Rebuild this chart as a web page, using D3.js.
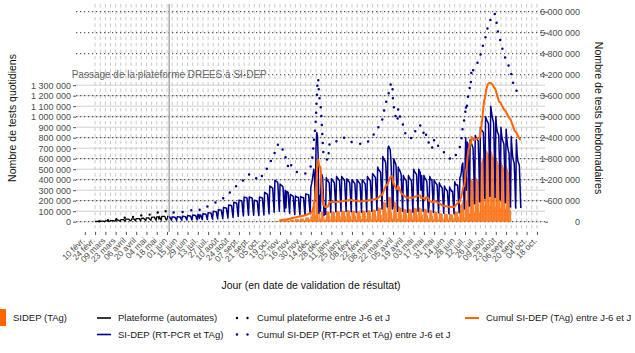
<!DOCTYPE html>
<html><head><meta charset="utf-8">
<script src="https://cdn.jsdelivr.net/npm/d3@7"></script>
<style>body{margin:0;background:#fff}svg{display:block}text{font-family:"Liberation Sans",Arial,sans-serif}</style>
</head><body>
<svg id="c" width="635" height="353"></svg>
<script>
// ---------- DATA (daily values in thousands, one row = one week Mon..Sun) ----------
const plateformeStart = "2020-02-24";
const plateformeWeeks = [
 [2,2,3,3,3,2,1],[4,4,5,5,5,3,2],[7,7,8,8,8,5,3],[10,11,11,11,11,7,4],
 [14,15,15,15,15,9,6],[18,19,19,19,19,11,7],[23,24,24,24,24,14,9],[12,26,27,27,27,16,10],
 [29,30,30,30,30,17,11],[32,32,33,33,26,18,12],[36,36,37,37,26,20,13],[42,42,43,43,43,24,15],
 [46,46,47,28,45,26,16],[50,50,51,51,51,28,17],[24,50,50]
];
const sidepStart = "2020-06-01";
const sidepWeeks = [
 [null,null,null,45,44,28,14],[46,45,44,43,42,28,14],[48,47,46,45,44,29,15],[52,51,50,49,48,31,16],
 [58,57,56,55,54,34,17],[63,62,61,60,59,37,18],[68,67,30,65,64,40,20],[76,75,74,73,72,45,22],
 [86,85,84,83,82,50,25],[100,98,97,96,95,58,28],[115,113,112,111,110,66,30],[135,133,132,130,128,76,35],
 [160,158,156,154,152,90,40],[185,183,181,179,177,108,50],[205,203,201,199,197,120,55],[235,232,230,228,225,135,62],
 [235,232,230,228,225,135,62],[205,203,200,198,195,120,58],[235,232,230,228,225,135,64],[280,275,270,265,260,160,75],
 [340,335,330,325,320,190,90],[395,390,385,380,370,220,100],[360,350,345,340,330,200,95],[300,130,290,285,280,170,80],
 [260,255,250,245,240,145,68],[245,240,235,232,230,140,65],[240,235,232,230,228,140,65],[265,262,260,258,255,160,75],
 [330,360,400,450,500,420,200],[700,850,820,600,80,250,100],[420,450,420,250,60,150,70],[420,400,390,380,370,230,90],
 [410,400,390,380,370,240,95],[430,420,410,400,390,250,100],[430,420,410,400,390,250,100],[410,400,390,380,370,240,95],
 [400,390,380,370,360,235,90],[400,390,380,370,360,235,90],[400,390,380,370,360,240,95],[430,420,410,400,390,260,100],
 [460,450,440,430,420,280,110],[520,500,490,480,470,310,120],[620,600,590,580,560,380,140],[700,720,700,690,600,420,120],
 [150,600,580,560,540,330,100],[520,500,490,470,450,280,100],[440,420,410,400,390,240,90],[440,420,410,400,390,240,90],
 [500,480,470,460,450,290,100],[500,480,470,300,440,280,100],[440,420,410,400,380,250,90],[150,430,410,400,390,240,90],
 [400,380,370,360,350,220,85],[370,350,340,330,320,200,80],[340,320,310,300,290,185,75],[330,310,300,290,290,185,75],
 [380,360,350,350,350,220,85],[420,430,470,540,560,360,120],[480,800,300,760,740,480,150],[780,760,740,720,700,480,170],
 [820,800,790,780,770,530,190],[900,880,870,860,850,600,220],[1000,980,960,950,930,650,240],[1100,1050,1000,970,940,640,230],
 [1000,900,860,840,820,560,210],[900,820,780,760,740,500,180],[880,800,720,680,650,420,140],[810,700,620,580,560,380,130],
 [780,650,580,560,540,350,130]
];
const tagStart = "2020-10-26";
const tagWeeks = [
 [5,5,5,5,5,3,2],[10,10,10,10,10,6,3],[15,8,15,15,15,9,4],[20,20,20,20,20,12,6],
 [25,25,25,25,25,15,7],[30,30,30,30,30,18,8],[40,40,40,40,40,25,10],[50,60,80,110,150,150,60],
 [350,420,400,250,20,80,30],[90,100,95,60,15,40,20],[100,98,96,94,92,55,25],[100,98,96,94,92,55,25],
 [104,102,100,98,96,55,25],[108,106,104,102,100,56,24],[112,110,108,106,104,56,24],[108,106,104,102,100,56,24],
 [104,102,100,98,96,55,25],[108,106,104,102,100,56,24],[112,110,108,106,104,56,24],[118,116,114,112,110,56,24],
 [138,136,134,132,130,64,26],[190,188,186,184,182,90,30],[240,238,236,234,230,92,30],[60,200,190,185,180,90,30],
 [150,145,140,135,130,65,25],[125,122,120,118,115,60,25],[125,122,120,118,115,60,25],[135,132,130,128,125,65,25],
 [140,135,130,60,125,65,25],[125,122,120,118,115,60,25],[40,115,110,108,105,55,22],[100,98,95,92,90,48,20],
 [85,82,80,78,75,40,18],[80,78,75,72,70,38,17],[78,75,72,70,68,38,17],[100,98,96,94,92,50,20],
 [150,160,170,180,200,120,40],[300,450,200,420,410,280,80],[420,410,400,390,380,250,90],[430,420,410,400,390,260,90],
 [550,560,580,600,620,450,150],[690,680,670,660,650,460,150],[690,670,650,630,610,420,140],[620,600,580,560,540,380,130],
 [580,560,540,520,500,350,120],[540,520,500,480,460,320,110],[480,460,440,420,400,280,100],[440,420,400,380,360,250,90]
];
const tagBarsEnd = "2021-09-12";
const passageDate = "2020-06-04";
const passageLabel = "Passage de la plateforme DREES à SI-DEP";
const tickStart = "2020-02-10";
const tickLabels = ["10 févr.","24 févr.","09 mars","23 mars","06 avril","20 avril","04 mai","18 mai","01 juin","15 juin",
 "29 juin","13 juil.","27 juil.","10 août","24 août","07 sept.","21 sept.","05 oct.","19 oct.","02 nov.","16 nov.","30 nov.",
 "14 déc.","28 déc.","11 janv.","25 janv.","08 févr.","22 févr.","08 mars","22 mars","05 avril","19 avril","03 mai","17 mai",
 "31 mai","14 juin","28 juin","12 juil.","26 juil.","09 août","23 août","06 sept.","20 sept.","04 oct.","18 oct."];
const leftTicks = [0,100000,200000,300000,400000,500000,600000,700000,800000,900000,1000000,1100000,1200000,1300000];
const rightTicks = [0,600000,1200000,1800000,2400000,3000000,3600000,4200000,4800000,5400000,6000000];

// ---------- helpers ----------
const parse = d3.utcParse("%Y-%m-%d");
const DAY = 864e5;
function expand(start, weeks){
  const t0 = +parse(start), out = [];
  weeks.flat().forEach((v,i)=>{ if(v!=null) out.push({date:new Date(t0+i*DAY), v:v*1000}); });
  return out;
}
function rolling(data){
  const m = new Map(data.map(d=>[+d.date,d.v]));
  return data.map(d=>{ let s=0; for(let k=0;k<7;k++){ const v=m.get(+d.date-k*DAY); if(v==null) return null; s+=v; } return {date:d.date,v:s}; }).filter(Boolean);
}
const plateforme = expand(plateformeStart, plateformeWeeks);
const sidep = expand(sidepStart, sidepWeeks);
const tag = expand(tagStart, tagWeeks);
const plateformeCum = rolling(plateforme), sidepCum = rolling(sidep), tagCum = rolling(tag);
const tagBars = tag.filter(d=>d.date<=parse(tagBarsEnd));

const loc = d3.formatLocale({decimal:",",thousands:" ",grouping:[3],currency:["","€"]});
const fmt = loc.format(",");

// ---------- scales ----------
const x = d3.scaleUtc().domain([parse("2020-01-29"), parse("2021-10-29")]).range([76,545]);
const yL = d3.scaleLinear().domain([0,1300000]).range([221.7,85.2]);
const yR = d3.scaleLinear().domain([0,6000000]).range([221.7,11.7]);
const pTop = 4, pBottom = 232, pLeft = 76, pRight = 545;

const svg = d3.select("#c");
const g = svg.append("g");

// vertical weekly dashed grid
const weeks = d3.utcMonday.range(parse("2020-02-24"), parse("2021-10-19"));
g.append("g").selectAll("line").data(weeks).join("line")
  .attr("x1",d=>x(d)).attr("x2",d=>x(d)).attr("y1",pTop).attr("y2",pBottom)
  .attr("stroke","#c4c4c4").attr("stroke-width",0.9).attr("stroke-dasharray","3.5,3");
// left gray grid
g.append("g").selectAll("line").data(leftTicks).join("line")
  .attr("x1",pLeft).attr("x2",pRight).attr("y1",d=>yL(d)).attr("y2",d=>yL(d))
  .attr("stroke","#cfcfcf").attr("stroke-width",1);
// right dotted grid
g.append("g").selectAll("line").data(rightTicks).join("line")
  .attr("x1",pLeft).attr("x2",pRight).attr("y1",d=>yR(d)).attr("y2",d=>yR(d))
  .attr("stroke","#3a3a3a").attr("stroke-width",1).attr("stroke-dasharray","1.3,2.7");
// passage line
g.append("line").attr("x1",x(parse(passageDate))).attr("x2",x(parse(passageDate)))
  .attr("y1",pTop).attr("y2",pBottom).attr("stroke","#b0b0b0").attr("stroke-width",1.6);
g.append("text").attr("x",x(parse(passageDate))).attr("y",78).attr("text-anchor","middle")
  .attr("font-size",10).attr("fill","#6a6a6a").text(passageLabel);

// bars
const bw = x(parse("2020-01-30"))-x(parse("2020-01-29"));
g.append("g").selectAll("rect").data(tagBars).join("rect")
  .attr("x",d=>x(d.date)-bw*0.55).attr("width",bw*1.1)
  .attr("y",d=>yL(d.v)).attr("height",d=>yL(0)-yL(d.v)).attr("fill","#ff6600");

const lineL = d3.line().x(d=>x(d.date)).y(d=>yL(d.v));
const lineR = d3.line().x(d=>x(d.date)).y(d=>yR(d.v));
g.append("path").attr("d",lineL(plateforme)).attr("fill","none").attr("stroke","#000").attr("stroke-width",1.3);
g.append("path").attr("d",lineL(sidep)).attr("fill","none").attr("stroke","#00008B").attr("stroke-width",1.5).attr("stroke-linejoin","round");
g.append("path").attr("d",lineR(plateformeCum)).attr("fill","none").attr("stroke","#000").attr("stroke-width",2.4).attr("stroke-linecap","round").attr("stroke-dasharray","0,8.5");
g.append("path").attr("d",lineR(sidepCum)).attr("fill","none").attr("stroke","#00008B").attr("stroke-width",2.5).attr("stroke-linecap","round").attr("stroke-dasharray","0,9");
g.append("path").attr("d",lineR(tagCum)).attr("fill","none").attr("stroke","#ff6600").attr("stroke-width",2).attr("stroke-linejoin","round");

// axes
const axL = svg.append("g").attr("transform","translate(76,0)")
  .call(d3.axisLeft(yL).tickValues(leftTicks).tickFormat(fmt).tickSize(3).tickPadding(2));
const axR = svg.append("g").attr("transform","translate(545,0)")
  .call(d3.axisRight(yR).tickValues(rightTicks).tickFormat(fmt).tickSize(3));
axR.selectAll("text").attr("x",35).attr("text-anchor","end");
const tickDates = tickLabels.map((_,i)=>new Date(+parse(tickStart)+i*14*DAY));
const axB = svg.append("g").attr("transform",`translate(0,${pBottom})`)
  .call(d3.axisBottom(x).tickValues(tickDates).tickFormat((d,i)=>tickLabels[i]).tickSize(3));
axB.selectAll("text").attr("transform","translate(-2,7) rotate(-45)").attr("text-anchor","end").attr("x",0).attr("y",0).attr("dy","0.35em");
[axL,axR,axB].forEach(a=>{
  a.select(".domain").remove();
  a.selectAll(".tick line").attr("stroke","#555");
  a.selectAll("text").attr("fill","#4d4d4d").attr("font-size",9).attr("font-family","Liberation Sans, Arial, sans-serif");
});
axB.selectAll("text").attr("font-size",8.5);

// titles
svg.append("text").attr("transform","translate(16,118) rotate(-90)").attr("text-anchor","middle").attr("font-size",10.5).attr("fill","#111").text("Nombre de tests quotidiens");
svg.append("text").attr("transform","translate(594.5,118) rotate(90)").attr("text-anchor","middle").attr("font-size",10.5).attr("fill","#111").text("Nombre de tests hebdomadaires");
svg.append("text").attr("x",311).attr("y",289).attr("text-anchor","middle").attr("font-size",10.5).attr("fill","#111").text("Jour (en date de validation de résultat)");

// legend
const L = svg.append("g").attr("font-size",9.5).attr("fill","#1a1a1a");
L.append("rect").attr("x",-11).attr("y",309).attr("width",17).attr("height",17).attr("fill","#ff6600");
L.append("text").attr("x",13).attr("y",321.3).text("SIDEP (TAg)");
L.append("line").attr("x1",97).attr("x2",111).attr("y1",318).attr("y2",318).attr("stroke","#000").attr("stroke-width",1.6);
L.append("text").attr("x",118).attr("y",321.3).text("Plateforme (automates)");
L.append("line").attr("x1",97).attr("x2",111).attr("y1",334.5).attr("y2",334.5).attr("stroke","#00008B").attr("stroke-width",1.6);
L.append("text").attr("x",118).attr("y",337.8).text("SI-DEP (RT-PCR et TAg)");
[[318,"#000"],[334.5,"#00008B"]].forEach(([yy,c])=>{
  [237,247.5].forEach(xx=>L.append("circle").attr("cx",xx).attr("cy",yy).attr("r",1.2).attr("fill",c));
});
L.append("text").attr("x",257).attr("y",321.3).text("Cumul plateforme entre J-6 et J");
L.append("text").attr("x",257).attr("y",337.8).text("Cumul SI-DEP (RT-PCR et TAg) entre J-6 et J");
L.append("line").attr("x1",465).attr("x2",479).attr("y1",318).attr("y2",318).attr("stroke","#ff6600").attr("stroke-width",2);
L.append("text").attr("x",486).attr("y",321.3).text("Cumul SI-DEP (TAg) entre J-6 et J");
</script>
</body></html>
